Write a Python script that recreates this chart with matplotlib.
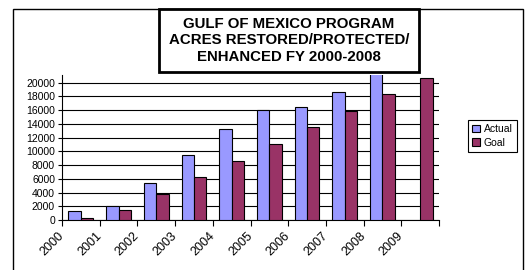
import numpy as np
import matplotlib
matplotlib.use("Agg")
import matplotlib.pyplot as plt
from matplotlib.patches import Rectangle, Patch

years = ["2000", "2001", "2002", "2003", "2004", "2005", "2006", "2007", "2008", "2009"]
actual = [1300, 2100, 5400, 9500, 13300, 16000, 16400, 18600, 21500, np.nan]
goal = [300, 1500, 3750, 6300, 8600, 11000, 13500, 15800, 18300, 20700]

plt.rcParams['font.family'] = ['Liberation Sans', 'DejaVu Sans']

fig = plt.figure(figsize=(5.25, 2.70), dpi=100)
W, H = 525.0, 270.0

# outer frame (bottom edge runs off the picture)
fig.patches.append(Rectangle((13 / W, -0.1), (523 - 13) / W, 1.1 - 9 / H,
                             transform=fig.transFigure, fill=False,
                             edgecolor='black', linewidth=1.0))

ax = fig.add_axes([62 / W, 1 - 220 / H, (439 - 62) / W, (220 - 75) / H])

x = np.arange(len(years))
w = 0.33
ax.bar(x + 0.5 - w / 2, actual, width=w, color='#9999FF', edgecolor='black',
       linewidth=0.8, label='Actual', zorder=3)
ax.bar(x + 0.5 + w / 2, goal, width=w, color='#993366', edgecolor='black',
       linewidth=0.8, label='Goal', zorder=3)

ax.set_xlim(0, len(years))
ax.set_ylim(0, 21100)
ax.set_yticks(np.arange(0, 20001, 2000))
ax.tick_params(axis='y', labelsize=7.5, length=3, width=0.8, pad=2)
ax.set_xticks(np.arange(0, len(years) + 1))
ax.set_xticklabels(years + [""], rotation=45, ha='right', va='center',
                   rotation_mode='anchor', fontsize=9)
ax.tick_params(axis='x', length=4, width=0.8, pad=6)
ax.yaxis.grid(True, color='black', linewidth=0.8, zorder=0)
ax.set_axisbelow(True)
for s in ['top', 'right']:
    ax.spines[s].set_visible(False)
for s in ['left', 'bottom']:
    ax.spines[s].set_linewidth(0.8)

# title box
fig.patches.append(Rectangle((159 / W, 1 - 72 / H), (419 - 159) / W, (72 - 9) / H,
                             transform=fig.transFigure, facecolor='white',
                             edgecolor='black', linewidth=2.0, zorder=5))
fig.text(289 / W, 1 - 40.5 / H,
         "GULF OF MEXICO PROGRAM\nACRES RESTORED/PROTECTED/\nENHANCED FY 2000-2008",
         ha='center', va='center', fontsize=10.8, fontweight='bold',
         linespacing=1.2, zorder=6)

handles = [Patch(facecolor='#9999FF', edgecolor='black', linewidth=0.8),
           Patch(facecolor='#993366', edgecolor='black', linewidth=0.8)]
leg = fig.legend(handles, ['Actual', 'Goal'], loc='upper left',
                 bbox_to_anchor=(463 / W, 1 - 115 / H), fontsize=7.5,
                 handlelength=0.7, handleheight=0.7, handletextpad=0.4,
                 borderpad=0.4, labelspacing=0.3, fancybox=False,
                 edgecolor='black', framealpha=1)
leg.get_frame().set_linewidth(0.8)

fig.savefig("out.png", dpi=100)
